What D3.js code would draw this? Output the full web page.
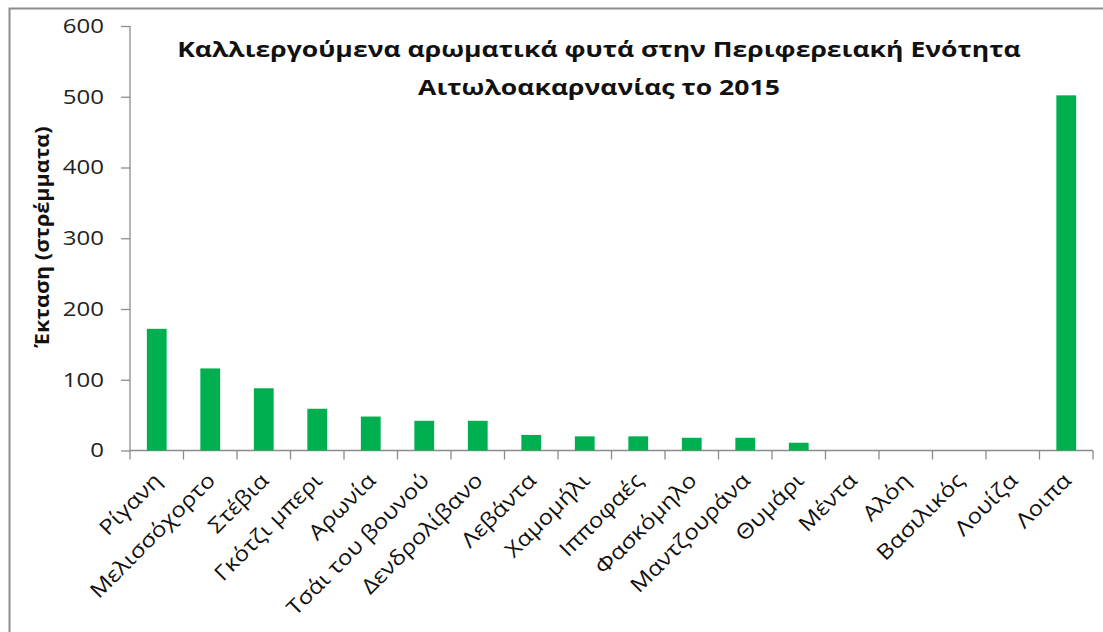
<!DOCTYPE html>
<html>
<head>
<meta charset="utf-8">
<script src="https://cdn.jsdelivr.net/npm/d3@7"></script>
<style>
  body { margin: 0; background: #fff; }
  svg { font-family: "Open Sans", "Noto Sans", sans-serif; }
</style>
</head>
<body>
<div id="viz"></div>
<script>
var width  = 1103;
var height = 632;

// data (στρέμματα)
var categories = ["Ρίγανη", "Μελισσόχορτο", "Στέβια", "Γκότζι μπερι", "Αρωνία",
	"Τσάι του βουνού", "Δενδρολίβανο", "Λεβάντα", "Χαμομήλι", "Ιπποφαές",
	"Φασκόμηλο", "Μαντζουράνα", "Θυμάρι", "Μέντα", "Αλόη", "Βασιλικός",
	"Λουίζα", "Λοιπα"];
var values = [172, 116, 88, 59, 48, 42, 42, 22, 20, 20, 18, 18, 11, 0, 0, 0, 0, 502];
var yTicks = [0, 100, 200, 300, 400, 500, 600];
var titleLines = ["Καλλιεργούμενα αρωματικά φυτά στην Περιφερειακή Ενότητα",
	"Αιτωλοακαρνανίας το 2015"];
var yLabel = "Έκταση (στρέμματα)";

var plotLeft = 130, plotRight = 1093, plotTop = 26, plotBottom = 450.5;

// the reference is a bit wider than the font, so stretch texts along their baseline
function stretch(sel, f){
	sel.each(function(){
		var len = this.getComputedTextLength();
		d3.select(this).attr("textLength", len * f).attr("lengthAdjust", "spacingAndGlyphs");
	});
}

var svg = d3.select("#viz").append("svg")
	.attr("width", width)
	.attr("height", height);

// chart border (only top and left fall inside the picture)
svg.append("rect")
	.attr("x", 9.5).attr("y", 8.5)
	.attr("width", 1200).attr("height", 700)
	.attr("fill", "none")
	.attr("stroke", "#8c8c8c")
	.attr("stroke-width", 2);

var x = d3.scaleBand()
	.domain(categories)
	.range([plotLeft, plotRight])
	.paddingInner(0.63)
	.paddingOuter(0.315);

var y = d3.scaleLinear()
	.domain([0, 600])
	.range([plotBottom, plotTop]);

// y axis
var yAxis = svg.append("g")
	.attr("transform", "translate(" + plotLeft + ",0)")
	.call(d3.axisLeft(y).tickValues(yTicks).tickSize(9).tickPadding(17));
yAxis.selectAll("path, line").attr("stroke", "#8c8c8c").attr("stroke-width", 1.3);
yAxis.select(".domain").attr("d", "M0," + (plotBottom + 0.5) + "V" + plotTop);
yAxis.selectAll("text")
	.attr("font-size", 20)
	.attr("font-family", "Open Sans")
	.attr("fill", "#222")
	.call(stretch, 1.2);

// x axis: line plus tick marks between categories
var step = (plotRight - plotLeft) / categories.length;
var xg = svg.append("g");
xg.append("line")
	.attr("x1", plotLeft).attr("x2", plotRight)
	.attr("y1", plotBottom).attr("y2", plotBottom)
	.attr("stroke", "#8c8c8c").attr("stroke-width", 1.3);
xg.selectAll("line.tick")
	.data(d3.range(categories.length + 1))
	.enter().append("line")
	.attr("class", "tick")
	.attr("x1", function(i){ return plotLeft + i * step; })
	.attr("x2", function(i){ return plotLeft + i * step; })
	.attr("y1", plotBottom).attr("y2", plotBottom + 9)
	.attr("stroke", "#8c8c8c").attr("stroke-width", 1.3);

// bars
svg.append("g").selectAll("rect")
	.data(values)
	.enter().append("rect")
	.attr("x", function(d, i){ return x(categories[i]); })
	.attr("width", x.bandwidth())
	.attr("y", function(d){ return y(d); })
	.attr("height", function(d){ return y(0) - y(d); })
	.attr("fill", "#00b050");

// category labels, rotated
svg.append("g").selectAll("text")
	.data(categories)
	.enter().append("text")
	.attr("transform", function(d){
		var cx = x(d) + x.bandwidth() / 2;
		return "translate(" + (cx + 1) + "," + (plotBottom + 26) + ") rotate(-45)";
	})
	.attr("text-anchor", "end")
	.attr("dy", "0.35em")
	.attr("font-size", 21)
	.attr("fill", "#111")
	.text(function(d){ return d; })
	.call(stretch, 1.15);

// title
svg.append("g").selectAll("text")
	.data(titleLines)
	.enter().append("text")
	.attr("x", 599)
	.attr("y", function(d, i){ return 57 + i * 38; })
	.attr("text-anchor", "middle")
	.attr("font-size", 21)
	.attr("font-weight", "bold")
	.attr("fill", "#111")
	.text(function(d){ return d; })
	.call(stretch, 1.265);

// y axis title
svg.append("text")
	.attr("transform", "translate(49,237) rotate(-90)")
	.attr("text-anchor", "middle")
	.attr("font-size", 20)
	.attr("font-weight", "bold")
	.attr("fill", "#111")
	.text(yLabel)
	.call(stretch, 1.08);
</script>
</body>
</html>
